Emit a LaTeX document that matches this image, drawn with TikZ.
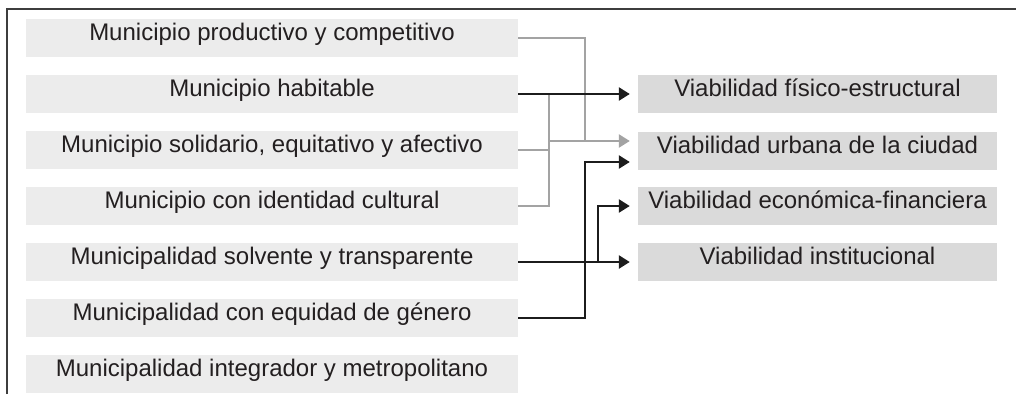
\documentclass[tikz,border=0pt]{standalone}
\usepackage{fontspec}
\setmainfont{Liberation Sans}
\usetikzlibrary{arrows.meta}
\definecolor{lbox}{HTML}{ECECEC}
\definecolor{rbox}{HTML}{DADADA}
\definecolor{gline}{HTML}{A3A3A3}
\definecolor{bline}{HTML}{1C1C1C}
\definecolor{txt}{HTML}{231F20}
\begin{document}
\begin{tikzpicture}[x=1pt,y=-1pt,
  lbx/.style={fill=lbox,draw=none,minimum width=492pt,minimum height=38pt,inner sep=0pt,
    text=txt,font=\fontsize{24}{27}\selectfont,text height=0.74em,text depth=0.24em},
  rbx/.style={fill=rbox,draw=none,minimum width=359pt,minimum height=38pt,inner sep=0pt,
    text=txt,font=\fontsize{24}{27}\selectfont,text height=0.74em,text depth=0.24em},
  gl/.style={draw=gline,line width=2.5pt},
  bl/.style={draw=bline,line width=2.5pt},
  arr/.style={-{Triangle[length=11pt,width=13pt]},shorten >=8pt}]
\useasboundingbox (0,0) rectangle (1016,394);
% frame
\draw[draw=bline!85,line width=2.4pt] (7,394) -- (7,9) -- (1016,9);
% left boxes
\node[lbx] (L1) at (272,38) {Municipio productivo y competitivo};
\node[lbx] (L2) at (272,94) {Municipio habitable};
\node[lbx] (L3) at (272,150) {Municipio solidario, equitativo y afectivo};
\node[lbx] (L4) at (272,206) {Municipio con identidad cultural};
\node[lbx] (L5) at (272,262) {Municipalidad solvente y transparente};
\node[lbx] (L6) at (272,318) {Municipalidad con equidad de género};
\node[lbx] (L7) at (272,374) {Municipalidad integrador y metropolitano};
% right boxes
\node[rbx] (R1) at (817.5,94) {Viabilidad físico-estructural};
\node[rbx] (R2) at (817.5,151) {Viabilidad urbana de la ciudad};
\node[rbx] (R3) at (817.5,206) {Viabilidad económica-financiera};
\node[rbx] (R4) at (817.5,262) {Viabilidad institucional};
% junction coordinates
\coordinate (ga) at (585,141);
\coordinate (gb) at (549,141);
\coordinate (gt) at (549,94);
\coordinate (gbot) at (549,206);
\coordinate (bs) at (598,262);
\coordinate (bu) at (585,162);
% gray connectors
\draw[gl] (L1.east) -| (ga);
\draw[gl] (L3.east) -- (L3.east -| gb);
\draw[gl] (L4.east) -- (gbot) -- (gt);
\draw[gl,arr] (gb) -- (gb -| R2.west);
% black connectors
\draw[bl,arr] (L2.east) -- (R1.west);
\draw[bl,arr] (L5.east) -- (R4.west);
\draw[bl,arr] (bs) |- (R3.west);
\draw[bl,arr] (L6.east) -| (bu) -- (bu -| R2.west);
\end{tikzpicture}
\end{document}
